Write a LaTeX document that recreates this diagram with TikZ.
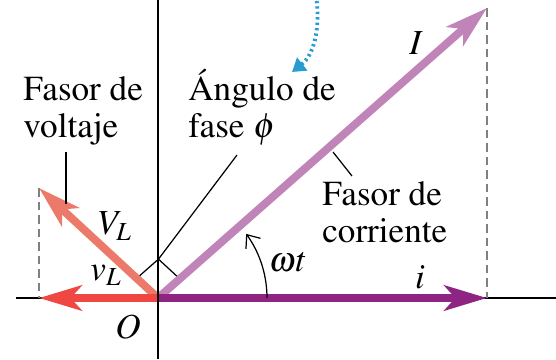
\documentclass[tikz,border=0pt]{standalone}
\usepackage[T1]{fontenc}
\usepackage{mathptmx}
\usetikzlibrary{arrows.meta,calc}
\definecolor{fasmauve}{RGB}{192,132,184}
\definecolor{faspurple}{RGB}{142,37,131}
\definecolor{fassalmon}{RGB}{236,122,106}
\definecolor{fasred}{RGB}{239,72,66}
\definecolor{fasblue}{RGB}{40,155,208}

\begin{document}
\begin{tikzpicture}[>=Latex, every node/.style={font=\fontsize{20}{20.5}\selectfont, inner sep=0pt},
  fasor/.style={line width=4.5pt, -{Stealth[length=0.85cm,width=0.5cm,inset=0.22cm]}},
  guia/.style={line width=0.7pt},
  proy/.style={gray, line width=0.8pt, dash pattern=on 0.17cm off 0.1cm}]
\useasboundingbox (-3.16,-1.22) rectangle (7.96,5.96);
\coordinate (O) at (0,0);
\coordinate (Itip) at (6.58,5.80);
\coordinate (ifoot) at (6.58,0);
\coordinate (VLtip) at (-2.38,2.2);
\coordinate (vLfoot) at (-2.38,0);
\coordinate (axL) at (-2.84,0);
\coordinate (axR) at (7.96,0);
\coordinate (axB) at (0,-1.22);
\coordinate (axT) at (0,5.96);
\draw[line width=1pt] (axL) -- (axR);
% proyecciones
\draw[proy] (Itip) -- (ifoot);
\draw[proy] (VLtip) -- (vLfoot);
% angulo recto
\coordinate (rI) at (41.4:0.58);
\coordinate (rV) at (137.25:0.58);
\coordinate (recto) at ($(rI)+(rV)$);
\draw[guia] (rI) -- (recto) -- (rV);
% fasores
\draw[fasor,fasmauve] (O) -- (Itip);
\draw[fasor,fassalmon] (O) -- (VLtip);
\draw[fasor,fasred] (O) -- (vLfoot);
\draw[fasor,faspurple] (O) -- (ifoot);
\draw[line width=1pt] (axB) -- (axT);
% omega t
\coordinate (arc0) at (2.18,0);
\draw[guia,-{Straight Barb[length=2.2mm,width=3.6mm]}] (arc0) arc[start angle=0,end angle=36,radius=2.18];
% flecha azul
\coordinate (azul0) at (3.16,6.05);
\coordinate (azul1) at (2.68,4.52);
\draw[fasblue, line width=2.2pt, dash pattern=on 1.3pt off 1.8pt, -{Triangle[length=2.6mm,width=3.2mm]}]
  (azul0) .. controls (3.26,5.35) and (3.1,4.85) .. (azul1);
% textos
\node[anchor=base west, align=left] (fasorV) at (-2.7,3.22) {Fasor de\\voltaje};
\node[anchor=base west, align=left] (angulo) at (0.6,3.22) {\'Angulo de\\fase $\phi$};
\node[anchor=base west, align=left] (fasorI) at (3.28,1.12) {Fasor de\\corriente};
\coordinate (gV0) at (-1.84,2.92);
\coordinate (gV1) at (-1.84,1.88);
\draw[guia] (gV0) -- (gV1);
\coordinate (gA) at (1.58,2.86);
\draw[guia] (recto) -- (gA);
\coordinate (gI0) at (3.5,2.92);
\coordinate (gI1) at (3.88,2.44);
\draw[guia] (gI0) -- (gI1);
\node (lI) at (5.16,5.1) {$I$};
\node (lVL) at (-0.86,1.44) {$V_L$};
\node (lvL) at (-1.04,0.46) {$v_L$};
\node (lwt) at (2.6,0.72) {$\omega t$};
\node (li) at (5.24,0.42) {$i$};
\node (lO) at (-0.6,-0.58) {$O$};
\end{tikzpicture}
\end{document}
